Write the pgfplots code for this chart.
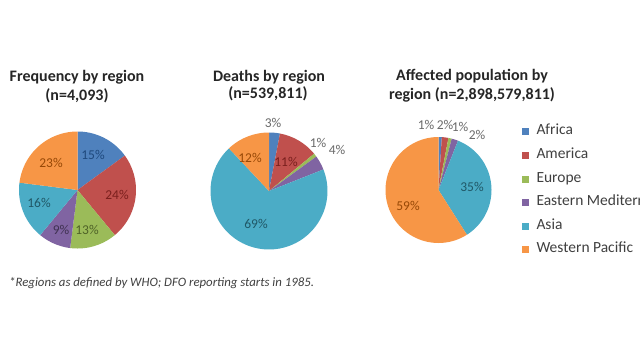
\documentclass[border=0pt]{standalone}
\usepackage{pgfplots}
\pgfplotsset{compat=1.18}
\usepackage{fontspec}
\setmainfont{Carlito}
\definecolor{cAf}{HTML}{4F81BD}
\definecolor{cAm}{HTML}{C0504D}
\definecolor{cEu}{HTML}{9BBB59}
\definecolor{cEm}{HTML}{8064A2}
\definecolor{cAs}{HTML}{4BACC6}
\definecolor{cWp}{HTML}{F79646}
\definecolor{lAf}{HTML}{1F497D}
\definecolor{lAm}{HTML}{7A1F1D}
\definecolor{lEu}{HTML}{4F6228}
\definecolor{lEm}{HTML}{3F3151}
\definecolor{lAs}{HTML}{205867}
\definecolor{lWp}{HTML}{974806}
\definecolor{lOut}{HTML}{6A6A6A}
\definecolor{txt}{HTML}{262626}
\definecolor{leg}{HTML}{404040}
% \slice{cumulative start %}{value %}{colour}
\newcommand{\slice}[3]{%
  \addplot[fill=#3, draw=none, domain={90-3.6*(#1+#2)}:{90-3.6*(#1)}, samples=60]
    ({cos(x)},{sin(x)}) -- (axis cs:0,0) -- cycle;}
\pgfplotsset{pie/.style={hide axis, scale only axis, width=#1, height=#1,
  xmin=-1, xmax=1, ymin=-1, ymax=1, clip=false, anchor=south west,
  legend image code/.code={\fill[##1] (0pt,-3.5pt) rectangle (7pt,3.5pt);}}}
\begin{document}
\begin{tikzpicture}
\path[use as bounding box] (0pt,0pt) rectangle (640pt,360pt);
\clip (0pt,0pt) rectangle (640pt,360pt);
\fill[white] (0pt,0pt) rectangle (640pt,360pt);
% Pie 1: Frequency
\begin{axis}[pie=117pt, at={(19pt,111.5pt)}]
\slice{0}{15}{cAf}
\slice{15}{24}{cAm}
\slice{39}{13}{cEu}
\slice{52}{9}{cEm}
\slice{61}{16}{cAs}
\slice{77}{23}{cWp}
\end{axis}
% Pie 2: Deaths
\begin{axis}[pie=117pt, at={(210.5pt,110.5pt)}]
\slice{0}{3}{cAf}
\slice{3}{11}{cAm}
\slice{14}{1}{cEu}
\slice{15}{4}{cEm}
\slice{19}{69}{cAs}
\slice{88}{12}{cWp}
\end{axis}
% Pie 3: Affected population
\begin{axis}[pie=106pt, at={(385.5pt,117pt)},
  legend style={at={(1.283,1.105)}, anchor=north west, draw=none, fill=none,
    inner sep=0pt, outer sep=0pt, font=\fontsize{15.5}{15.5}\selectfont, text=leg,
    row sep=11.6pt, column sep=0pt,
    nodes={inner sep=0pt, anchor=west, text height=9pt, text depth=3pt},
    /tikz/every odd column/.append style={column sep=8pt}},
  legend cell align=left]
\slice{0}{1}{cAf}
\slice{1}{2}{cAm}
\slice{3}{1}{cEu}
\slice{4}{2}{cEm}
\slice{6}{35}{cAs}
\slice{41}{59}{cWp}
\legend{Africa, America, Europe, Eastern Mediterranean, Asia, Western Pacific}
\end{axis}
\begin{scope}[x=1pt,y=1pt]
% titles
\begin{scope}[every node/.style={font=\bfseries\fontsize{16}{16}\selectfont, text=txt, inner sep=0pt}]
\node at (77,283) {Frequency by region};
\node at (77,264) {(n=4,093)};
\node at (269,283) {Deaths by region};
\node at (268,266) {(n=539,811)};
\node at (472,284) {Affected population by};
\node at (472,265) {region (n=2,898,579,811)};
\end{scope}
% percentage labels
\begin{scope}[every node/.style={font=\fontsize{13.5}{13.5}\selectfont, inner sep=0pt}]
\node[text=lAf] at (93,205) {15\%};
\node[text=lAm] at (117,165) {24\%};
\node[text=lEu] at (87,130) {13\%};
\node[text=lEm] at (61,130) {9\%};
\node[text=lAs] at (39,157) {16\%};
\node[text=lWp] at (51,197) {23\%};
\node[text=lOut] at (273,237) {3\%};
\node[text=lAm] at (286,198) {11\%};
\node[text=lOut] at (318,217) {1\%};
\node[text=lOut] at (337,210) {4\%};
\node[text=lAs] at (256,136) {69\%};
\node[text=lWp] at (250,202) {12\%};
\node[text=lOut] at (426,235) {1\%};
\node[text=lOut] at (445,235) {2\%};
\node[text=lOut] at (460,233) {1\%};
\node[text=lOut] at (477,225) {2\%};
\node[text=lAs] at (472,173) {35\%};
\node[text=lWp] at (408,154) {59\%};
\end{scope}
\node[anchor=west, inner sep=0pt, font=\itshape\fontsize{12.8}{12.8}\selectfont, text=leg] at (9,77) {*Regions as defined by WHO; DFO reporting starts in 1985.};
\end{scope}
\end{tikzpicture}
\end{document}
